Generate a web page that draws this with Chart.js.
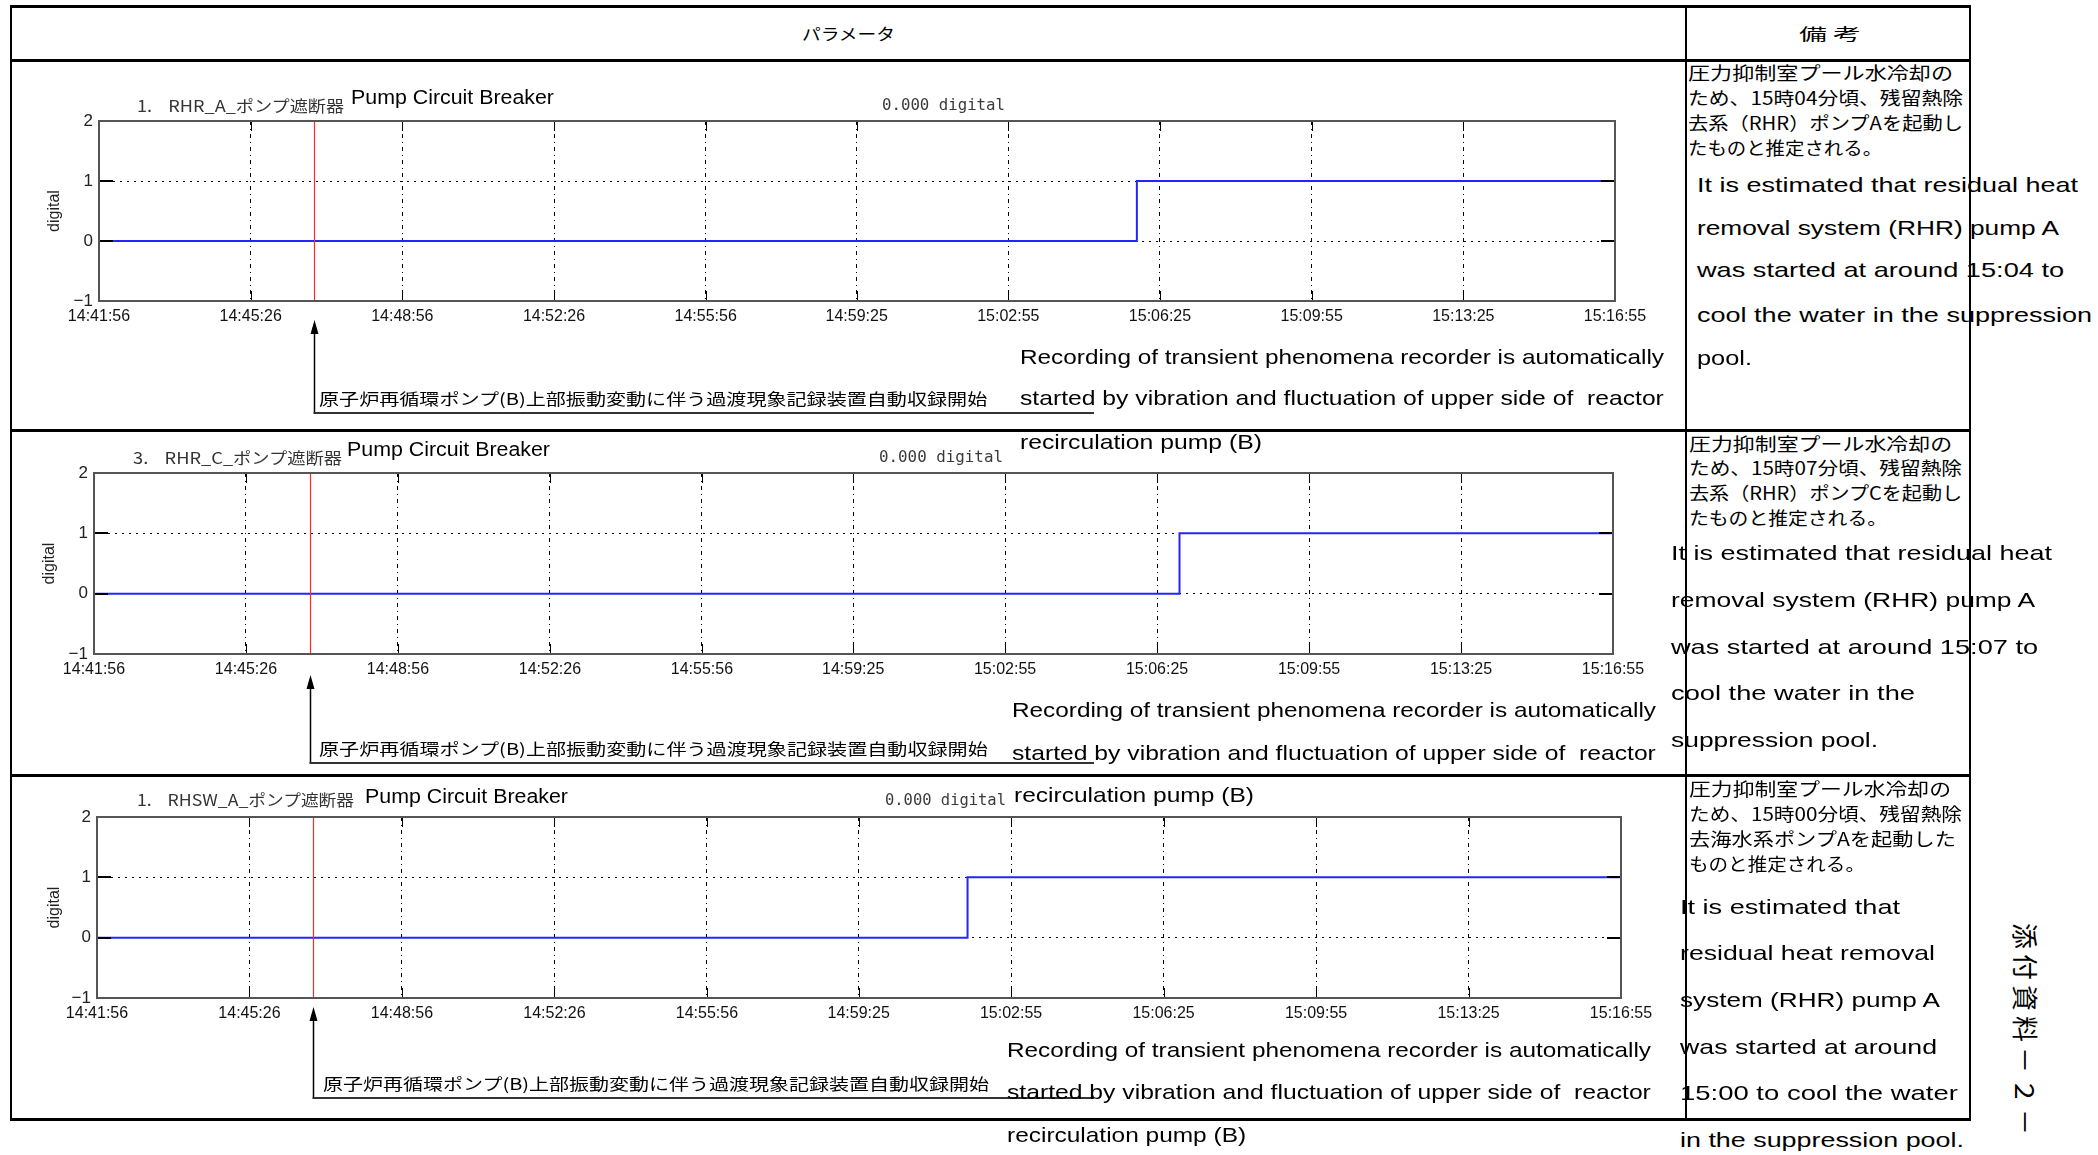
<!DOCTYPE html>
<html>
<head>
<meta charset="utf-8">
<script src="https://cdn.jsdelivr.net/npm/chart.js@4.4.1/dist/chart.umd.min.js"></script>
<style>
body{margin:0;background:#fff;width:2098px;height:1155px;overflow:hidden;position:relative;font-family:"Liberation Sans",Arial,sans-serif;}
.t{position:absolute;white-space:nowrap;line-height:1;transform-origin:0 50%;color:#000;z-index:2}
.jp{font-family:"Noto Sans CJK JP",sans-serif}
.mono{font-family:"DejaVu Sans Mono",monospace;color:#3a3a3a}
.ttl{color:#333}
.ln{position:absolute;background:#000;z-index:5}
.box{position:absolute;left:0;z-index:1}
.vert{position:absolute;writing-mode:vertical-rl;text-orientation:sideways;font-family:"Noto Sans CJK JP",sans-serif;font-size:26px;letter-spacing:5px;line-height:1}
</style>
</head>
<body>

<!-- 表の枠 -->
<div class="ln" style="left:10px;top:5px;width:1961px;height:3px"></div>
<div class="ln" style="left:10px;top:59px;width:1961px;height:3px"></div>
<div class="ln" style="left:10px;top:429px;width:1961px;height:3px"></div>
<div class="ln" style="left:10px;top:774px;width:1961px;height:3px"></div>
<div class="ln" style="left:10px;top:1118px;width:1961px;height:3px"></div>
<div class="ln" style="left:10px;top:5px;width:2px;height:1116px"></div>
<div class="ln" style="left:1685px;top:5px;width:2px;height:1116px"></div>
<div class="ln" style="left:1969px;top:5px;width:2px;height:1116px"></div>

<div class="t jp" style="left:802px;top:25px;font-size:16px" data-w="93">パラメータ</div>
<div class="t jp" style="left:1799px;top:25px;font-size:16px" data-w="62">備 考</div>

<!-- 1段目 -->
<div class="box" style="top:60px"><canvas id="c1" width="1680" height="370"></canvas></div>
<div class="t jp ttl" style="left:137px;top:97px;font-size:16px" data-w="207">1.&nbsp;&nbsp;&nbsp;&nbsp;RHR_A_ポンプ遮断器</div>
<div class="t" style="left:351px;top:87px;font-size:20px" data-w="203">Pump Circuit Breaker</div>
<div class="t mono" style="left:882px;top:97px;font-size:16px" data-w="123">0.000 digital</div>
<div class="t jp" style="left:319px;top:390px;font-size:16px" data-w="668">原子炉再循環ポンプ(B)上部振動変動に伴う過渡現象記録装置自動収録開始</div>
<div class="t" style="left:1020px;top:346px;font-size:21px" data-w="644">Recording of transient phenomena recorder is automatically</div>
<div class="t" style="left:1020px;top:387px;font-size:21px" data-w="644">started by vibration and fluctuation of upper side of&nbsp; reactor</div>
<div class="t" style="left:1020px;top:431px;font-size:21px" data-w="242">recirculation pump (B)</div>
<div class="t jp" style="left:1688px;top:63px;font-size:18px" data-w="265">圧力抑制室プール水冷却の</div>
<div class="t jp" style="left:1688px;top:88px;font-size:18px" data-w="275">ため、15時04分頃、残留熱除</div>
<div class="t jp" style="left:1688px;top:113px;font-size:18px" data-w="275">去系（RHR）ポンプAを起動し</div>
<div class="t jp" style="left:1688px;top:138px;font-size:18px" data-w="194">たものと推定される。</div>
<div class="t" style="left:1697px;top:174px;font-size:21px" data-w="381">It is estimated that residual heat</div>
<div class="t" style="left:1697px;top:217px;font-size:21px" data-w="362">removal system (RHR) pump A</div>
<div class="t" style="left:1697px;top:259px;font-size:21px" data-w="367">was started at around 15:04 to</div>
<div class="t" style="left:1697px;top:304px;font-size:21px" data-w="395">cool the water in the suppression</div>
<div class="t" style="left:1697px;top:347px;font-size:21px" data-w="55">pool.</div>

<!-- 2段目 -->
<div class="box" style="top:430px"><canvas id="c2" width="1680" height="345"></canvas></div>
<div class="t jp ttl" style="left:133px;top:449px;font-size:16px" data-w="209">3.&nbsp;&nbsp;&nbsp;&nbsp;RHR_C_ポンプ遮断器</div>
<div class="t" style="left:347px;top:439px;font-size:20px" data-w="203">Pump Circuit Breaker</div>
<div class="t mono" style="left:879px;top:449px;font-size:16px" data-w="124">0.000 digital</div>
<div class="t jp" style="left:319px;top:740px;font-size:16px" data-w="669">原子炉再循環ポンプ(B)上部振動変動に伴う過渡現象記録装置自動収録開始</div>
<div class="t" style="left:1012px;top:699px;font-size:21px" data-w="644">Recording of transient phenomena recorder is automatically</div>
<div class="t" style="left:1012px;top:742px;font-size:21px" data-w="644">started by vibration and fluctuation of upper side of&nbsp; reactor</div>
<div class="t" style="left:1014px;top:784px;font-size:21px" data-w="240">recirculation pump (B)</div>
<div class="t jp" style="left:1689px;top:434px;font-size:18px" data-w="263">圧力抑制室プール水冷却の</div>
<div class="t jp" style="left:1689px;top:458px;font-size:18px" data-w="273">ため、15時07分頃、残留熱除</div>
<div class="t jp" style="left:1689px;top:483px;font-size:18px" data-w="273">去系（RHR）ポンプCを起動し</div>
<div class="t jp" style="left:1689px;top:508px;font-size:18px" data-w="198">たものと推定される。</div>
<div class="t" style="left:1671px;top:542px;font-size:21px" data-w="381">It is estimated that residual heat</div>
<div class="t" style="left:1671px;top:589px;font-size:21px" data-w="364">removal system (RHR) pump A</div>
<div class="t" style="left:1671px;top:636px;font-size:21px" data-w="367">was started at around 15:07 to</div>
<div class="t" style="left:1671px;top:682px;font-size:21px" data-w="244">cool the water in the</div>
<div class="t" style="left:1671px;top:729px;font-size:21px" data-w="207">suppression pool.</div>

<!-- 3段目 -->
<div class="box" style="top:775px"><canvas id="c3" width="1680" height="380"></canvas></div>
<div class="t jp ttl" style="left:137px;top:791px;font-size:16px" data-w="217">1.&nbsp;&nbsp;&nbsp;&nbsp;RHSW_A_ポンプ遮断器</div>
<div class="t" style="left:365px;top:786px;font-size:20px" data-w="203">Pump Circuit Breaker</div>
<div class="t mono" style="left:885px;top:792px;font-size:16px" data-w="121">0.000 digital</div>
<div class="t jp" style="left:323px;top:1075px;font-size:16px" data-w="666">原子炉再循環ポンプ(B)上部振動変動に伴う過渡現象記録装置自動収録開始</div>
<div class="t" style="left:1007px;top:1039px;font-size:21px" data-w="644">Recording of transient phenomena recorder is automatically</div>
<div class="t" style="left:1007px;top:1081px;font-size:21px" data-w="644">started by vibration and fluctuation of upper side of&nbsp; reactor</div>
<div class="t" style="left:1007px;top:1124px;font-size:21px" data-w="239">recirculation pump (B)</div>
<div class="t jp" style="left:1689px;top:779px;font-size:18px" data-w="262">圧力抑制室プール水冷却の</div>
<div class="t jp" style="left:1689px;top:804px;font-size:18px" data-w="273">ため、15時00分頃、残留熱除</div>
<div class="t jp" style="left:1689px;top:829px;font-size:18px" data-w="267">去海水系ポンプAを起動した</div>
<div class="t jp" style="left:1689px;top:854px;font-size:18px" data-w="176">ものと推定される。</div>
<div class="t" style="left:1680px;top:896px;font-size:21px" data-w="220">It is estimated that</div>
<div class="t" style="left:1680px;top:942px;font-size:21px" data-w="255">residual heat removal</div>
<div class="t" style="left:1680px;top:989px;font-size:21px" data-w="260">system (RHR) pump A</div>
<div class="t" style="left:1680px;top:1036px;font-size:21px" data-w="257">was started at around</div>
<div class="t" style="left:1680px;top:1082px;font-size:21px" data-w="278">15:00 to cool the water</div>
<div class="t" style="left:1680px;top:1129px;font-size:21px" data-w="284">in the suppression pool.</div>

<div class="vert" style="left:2013px;top:923px">添付資料－２－</div>

<script>
// 時間軸 (14:41:56 からの経過秒)
const tickSeconds = [0, 210, 420, 630, 840, 1049, 1259, 1469, 1679, 1889, 2099];
const tickLabels = ['14:41:56', '14:45:26', '14:48:56', '14:52:26', '14:55:56', '14:59:25',
    '15:02:55', '15:06:25', '15:09:55', '15:13:25', '15:16:55'];
const yTicks = [-1, 0, 1, 2];
const yTickLabels = ['−1', '0', '1', '2'];

// 遮断器の状態 (digital)
const rhrATimes = [0, 1437, 1437, 2099];
const rhrAValues = [0, 0, 1, 1];
const rhrCTimes = [0, 1500, 1500, 2099];
const rhrCValues = [0, 0, 1, 1];
const rhswATimes = [0, 1199, 1199, 2099];
const rhswAValues = [0, 0, 1, 1];

// 過渡現象記録装置の収録開始 (赤線)
const markerTime = 298;

Chart.defaults.font.family = '"Liberation Sans", Arial, sans-serif';

// 枠・赤線・矢印
const framePlugin = {
    id: 'frame',
    afterDatasetsDraw(chart, args, opts) {
        const { ctx, chartArea: a, scales: { x, y } } = chart;
        ctx.save();
        ctx.strokeStyle = '#000';
        ctx.lineWidth = 1;
        tickSeconds.forEach(v => {
            const px = Math.round(x.getPixelForValue(v)) + 0.5;
            ctx.beginPath();
            ctx.moveTo(px, a.top); ctx.lineTo(px, a.top + 10);
            ctx.moveTo(px, a.bottom); ctx.lineTo(px, a.bottom - 10);
            ctx.stroke();
        });
        ctx.lineWidth = 2;
        [0, 1].forEach(v => {
            const py = Math.round(y.getPixelForValue(v));
            ctx.beginPath();
            ctx.moveTo(a.left, py); ctx.lineTo(a.left + 14, py);
            ctx.moveTo(a.right, py); ctx.lineTo(a.right - 14, py);
            ctx.stroke();
        });
        const mx = Math.round(x.getPixelForValue(markerTime)) + 0.5;
        ctx.strokeStyle = '#ff2a2a';
        ctx.lineWidth = 1.2;
        ctx.beginPath();
        ctx.moveTo(mx, a.top); ctx.lineTo(mx, a.bottom);
        ctx.stroke();
        ctx.strokeStyle = '#555';
        ctx.lineWidth = 2;
        ctx.strokeRect(a.left, a.top, a.right - a.left, a.bottom - a.top);
        ctx.restore();
    },
    afterDraw(chart, args, opts) {
        const { ctx, scales: { x } } = chart;
        const mx = Math.round(x.getPixelForValue(markerTime)) + 0.5;
        ctx.save();
        ctx.fillStyle = '#000';
        ctx.beginPath();
        ctx.moveTo(mx, opts.tipY);
        ctx.lineTo(mx - 4, opts.tipY + 14);
        ctx.lineTo(mx + 4, opts.tipY + 14);
        ctx.closePath();
        ctx.fill();
        ctx.strokeStyle = '#000';
        ctx.lineWidth = 1.5;
        ctx.beginPath();
        ctx.moveTo(mx, opts.tipY + 10);
        ctx.lineTo(mx, opts.cornerY);
        ctx.stroke();
        ctx.strokeStyle = '#333';
        ctx.lineWidth = 2;
        ctx.beginPath();
        ctx.moveTo(mx - 1, opts.cornerY);
        ctx.lineTo(opts.endX, opts.cornerY);
        ctx.stroke();
        ctx.restore();
    }
};

function criarGrafico(id, times, values, g) {
    return new Chart(document.getElementById(id), {
        type: 'line',
        data: {
            datasets: [{
                data: times.map((t, i) => ({ x: t, y: values[i] })),
                borderColor: '#2424ff',
                borderWidth: 2,
                pointRadius: 0,
                fill: false,
                tension: 0
            }]
        },
        options: {
            responsive: false,
            animation: false,
            layout: { padding: { left: 0, top: g.top, right: g.right, bottom: g.bottom } },
            plugins: {
                legend: { display: false },
                tooltip: { enabled: false },
                frame: { tipY: g.tipY, cornerY: g.cornerY, endX: 1094 }
            },
            scales: {
                x: {
                    type: 'linear',
                    min: 0,
                    max: 2099,
                    afterBuildTicks: s => { s.ticks = tickSeconds.map(v => ({ value: v })); },
                    afterFit: s => { s.height = 40; },
                    ticks: {
                        autoSkip: false, maxRotation: 0, minRotation: 0, padding: 6,
                        color: '#111', font: { size: 16 },
                        callback: (v, i) => tickLabels[i]
                    },
                    grid: { color: '#000', lineWidth: 1, drawTicks: false },
                    border: { display: false, dash: [4, 4, 1, 4] }
                },
                y: {
                    min: -1,
                    max: 2,
                    afterBuildTicks: s => { s.ticks = yTicks.map(v => ({ value: v })); },
                    afterFit: s => { s.width = g.yw; },
                    ticks: {
                        padding: 6, color: '#222', font: { size: 17 },
                        callback: (v, i) => yTickLabels[i]
                    },
                    grid: {
                        color: c => (c.tick && (c.tick.value === 0 || c.tick.value === 1)) ? '#000' : 'rgba(0,0,0,0)',
                        lineWidth: 1,
                        drawTicks: false
                    },
                    border: { display: false, dash: [2, 5] },
                    title: {
                        display: true, text: 'digital', color: '#222',
                        font: { size: 16 },
                        padding: { top: g.titlePad, bottom: 0 }
                    }
                }
            }
        },
        plugins: [framePlugin]
    });
}

function ajustarTextos() {
    document.querySelectorAll('[data-w]').forEach(el => {
        const w = el.getBoundingClientRect().width;
        if (w > 0) el.style.transform = 'scaleX(' + (parseFloat(el.dataset.w) / w).toFixed(3) + ')';
    });
}

document.addEventListener('DOMContentLoaded', () => {
    ajustarTextos();
    criarGrafico('c1', rhrATimes, rhrAValues,
        { top: 61, right: 65, bottom: 89, yw: 99, titlePad: 45, tipY: 260, cornerY: 353 });
    criarGrafico('c2', rhrCTimes, rhrCValues,
        { top: 43, right: 67, bottom: 81, yw: 94, titlePad: 40, tipY: 245, cornerY: 333 });
    criarGrafico('c3', rhswATimes, rhswAValues,
        { top: 42, right: 59, bottom: 117, yw: 97, titlePad: 45, tipY: 232, cornerY: 323 });
});
</script>
</body>
</html>
